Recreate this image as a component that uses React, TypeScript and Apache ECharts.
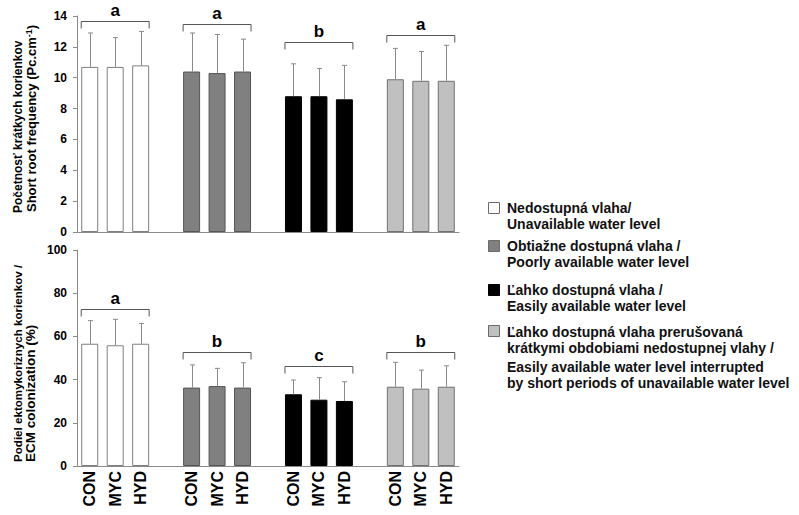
import React, { useEffect, useRef } from "react";
import * as echarts from "echarts";

// Treatments within each moisture regime
const treatments = ["CON", "MYC", "HYD"];

// Moisture regimes (legend entries)
const waterLevels = [
  "Nedostupná vlaha/\nUnavailable water level",
  "Obtiažne dostupná vlaha /\nPoorly available water level",
  "Ľahko dostupná vlaha /\nEasily available water level",
  "Ľahko dostupná vlaha prerušovaná\nkrátkymi obdobiami nedostupnej vlahy /\nEasily available water level interrupted\nby short periods of unavailable water level",
];

// Short root frequency (Pc.cm-1): means and standard deviations per regime × treatment
const srfMean = [
  [10.7, 10.7, 10.8],
  [10.4, 10.3, 10.4],
  [8.8, 8.8, 8.6],
  [9.9, 9.8, 9.8],
];
const srfSd = [
  [2.2, 1.9, 2.2],
  [2.5, 2.5, 2.1],
  [2.1, 1.8, 2.2],
  [2.0, 1.9, 2.3],
];
const srfLetters = ["a", "a", "b", "a"];
const srfBracket = [13.7, 13.5, 12.3, 12.8];

// ECM colonization (%)
const ecmMean = [
  [56.6, 55.9, 56.6],
  [36.3, 37.0, 36.3],
  [33.2, 30.7, 30.1],
  [36.7, 35.8, 36.7],
];
const ecmSd = [
  [10.7, 12.0, 9.4],
  [10.5, 8.2, 11.5],
  [6.6, 10.2, 8.9],
  [11.3, 8.6, 9.7],
];
const ecmLetters = ["a", "b", "c", "b"];
const ecmBracket = [72.7, 52.6, 46.3, 52.9];

const srfTicks = { min: 0, max: 14, interval: 2 };
const ecmTicks = { min: 0, max: 100, interval: 20 };

const FONT = "'Liberation Sans', Arial, Helvetica, sans-serif";
const fills = ["#ffffff", "#808080", "#000000", "#c0c0c0"];
const borders = ["#7f7f7f", "#555555", "#000000", "#707070"];
const AXIS_GRAY = "#8a8a8a";
const BAR_W = 17;

// 3 bars per regime, one empty slot between regimes
const slotOf = (g: number, t: number) => g * 4 + t;
const categories: string[] = [];
waterLevels.forEach((_, g) => {
  treatments.forEach((t) => categories.push(t));
  if (g < waterLevels.length - 1) categories.push("");
});

function barSeries(means: number[][], gridIdx: number) {
  return waterLevels.map((name, g) => {
    const data: (number | string)[] = categories.map(() => "-");
    means[g].forEach((v, t) => (data[slotOf(g, t)] = v));
    return {
      type: "bar",
      name,
      xAxisIndex: gridIdx,
      yAxisIndex: gridIdx,
      barWidth: BAR_W,
      barGap: "-100%",
      data,
      itemStyle: { color: fills[g], borderColor: borders[g], borderWidth: 1 },
    };
  });
}

function errorSeries(means: number[][], sds: number[][], gridIdx: number) {
  const data: number[][] = [];
  means.forEach((row, g) =>
    row.forEach((m, t) => data.push([slotOf(g, t), m, m + sds[g][t]]))
  );
  return {
    type: "custom",
    xAxisIndex: gridIdx,
    yAxisIndex: gridIdx,
    encode: { x: 0, y: [1, 2] },
    z: 5,
    data,
    renderItem: (_p: any, api: any) => {
      const x = api.value(0);
      const lo = api.coord([x, api.value(1)]);
      const hi = api.coord([x, api.value(2)]);
      const cx = Math.round(hi[0]) + 0.5;
      const style = { stroke: AXIS_GRAY, lineWidth: 1 };
      return {
        type: "group",
        children: [
          { type: "line", shape: { x1: cx, y1: lo[1], x2: cx, y2: hi[1] }, style },
          { type: "line", shape: { x1: cx - 2.5, y1: hi[1], x2: cx + 2.5, y2: hi[1] }, style },
        ],
      };
    },
  };
}

function bracketSeries(levels: number[], letters: string[], gridIdx: number) {
  const data = levels.map((lv, g) => [slotOf(g, 0), slotOf(g, 2), lv]);
  return {
    type: "custom",
    xAxisIndex: gridIdx,
    yAxisIndex: gridIdx,
    encode: { x: [0, 1], y: 2 },
    z: 6,
    data,
    renderItem: (p: any, api: any) => {
      const a = api.coord([api.value(0), api.value(2)]);
      const b = api.coord([api.value(1), api.value(2)]);
      const x1 = a[0] - BAR_W / 2;
      const x2 = b[0] + BAR_W / 2;
      const y = Math.round(a[1]) + 0.5;
      return {
        type: "group",
        children: [
          {
            type: "polyline",
            shape: { points: [[x1, y + 7], [x1, y], [x2, y], [x2, y + 7]] },
            style: { stroke: "#555555", lineWidth: 1, fill: "none" },
          },
          {
            type: "text",
            style: {
              text: letters[p.dataIndex],
              x: (x1 + x2) / 2,
              y: y - 11,
              align: "center",
              verticalAlign: "middle",
              fontSize: 17,
              fontWeight: "bold",
              fontFamily: FONT,
              fill: "#000",
            },
          },
        ],
      };
    },
  };
}

function yAxis(gridIdx: number, ticks: { min: number; max: number; interval: number }) {
  return {
    type: "value",
    gridIndex: gridIdx,
    ...ticks,
    axisLine: { show: true, lineStyle: { color: AXIS_GRAY } },
    axisTick: { show: true, length: 4, lineStyle: { color: AXIS_GRAY } },
    splitLine: { show: false },
    axisLabel: { color: "#000", fontSize: 12, fontWeight: "bold", fontFamily: FONT, margin: 10 },
  };
}

function xAxis(gridIdx: number, showLabels: boolean) {
  return {
    type: "category",
    gridIndex: gridIdx,
    data: categories,
    axisLine: { show: true, lineStyle: { color: AXIS_GRAY } },
    axisTick: { show: false },
    axisLabel: {
      show: showLabels,
      interval: 0,
      rotate: 90,
      margin: 5,
      color: "#000",
      fontSize: 16,
      fontWeight: "bold",
      fontFamily: FONT,
    },
  };
}

function rotatedTitle(text: string, x: number, y: number, fontSize: number, rich?: any) {
  return {
    type: "text",
    x,
    y,
    rotation: Math.PI / 2,
    style: {
      text,
      fontSize,
      fontWeight: "bold",
      fontFamily: FONT,
      fill: "#000",
      align: "left",
      verticalAlign: "middle",
      rich,
    },
  };
}

// Legend swatches and their two-language captions
const legendTops = [202, 240, 284, 325];
function legendGraphics() {
  const out: any[] = [];
  waterLevels.forEach((label, g) => {
    out.push({
      type: "rect",
      shape: { x: 488.5, y: legendTops[g] + 0.5, width: 11, height: 11 },
      style: { fill: fills[g], stroke: g === 2 ? "#000" : "#6a6a6a", lineWidth: 1 },
    });
    const lines = label.split("\n");
    const blocks = g === 3 ? [lines.slice(0, 2), lines.slice(2)] : [lines];
    const offsets = g === 3 ? [-1, 34] : [-2];
    blocks.forEach((blk, i) => {
      out.push({
        type: "text",
        x: 507,
        y: legendTops[g] + offsets[i],
        style: {
          text: blk.join("\n"),
          fontSize: 14,
          fontWeight: "bold",
          fontFamily: FONT,
          fill: "#111",
          lineHeight: 16,
          align: "left",
          verticalAlign: "top",
        },
      });
    });
  });
  return out;
}

export default function App() {
  const ref = useRef<HTMLDivElement>(null);

  useEffect(() => {
    document.body.style.margin = "0";
    if (!ref.current) return;
    const chart = echarts.init(ref.current, null, { renderer: "svg" });
    chart.setOption({
      animation: false,
      backgroundColor: "#ffffff",
      grid: [
        { left: 77, top: 16, width: 382, height: 216 },
        { left: 77, top: 250, width: 382, height: 216 },
      ],
      xAxis: [xAxis(0, false), xAxis(1, true)],
      yAxis: [yAxis(0, srfTicks), yAxis(1, ecmTicks)],
      series: [
        ...barSeries(srfMean, 0),
        errorSeries(srfMean, srfSd, 0),
        bracketSeries(srfBracket, srfLetters, 0),
        ...barSeries(ecmMean, 1),
        errorSeries(ecmMean, ecmSd, 1),
        bracketSeries(ecmBracket, ecmLetters, 1),
      ],
      graphic: [
        rotatedTitle("Početnosť krátkych korienkov", 18, 213, 12),
        rotatedTitle("{n|Short root frequency (Pc.cm}{s|-1}{n|)}", 31, 212, 13, {
          n: { fontSize: 13, fontWeight: "bold", fontFamily: FONT },
          s: { fontSize: 9, fontWeight: "bold", fontFamily: FONT, verticalAlign: "top", padding: [0, 0, 5, 0] },
        }),
        rotatedTitle("Podiel ektomykoriznych korienkov /", 17, 462, 11.6),
        rotatedTitle("ECM colonization (%)", 30, 462, 13.5),
        ...legendGraphics(),
      ],
    });
    return () => chart.dispose();
  }, []);

  return <div ref={ref} style={{ width: 799, height: 515 }} />;
}
